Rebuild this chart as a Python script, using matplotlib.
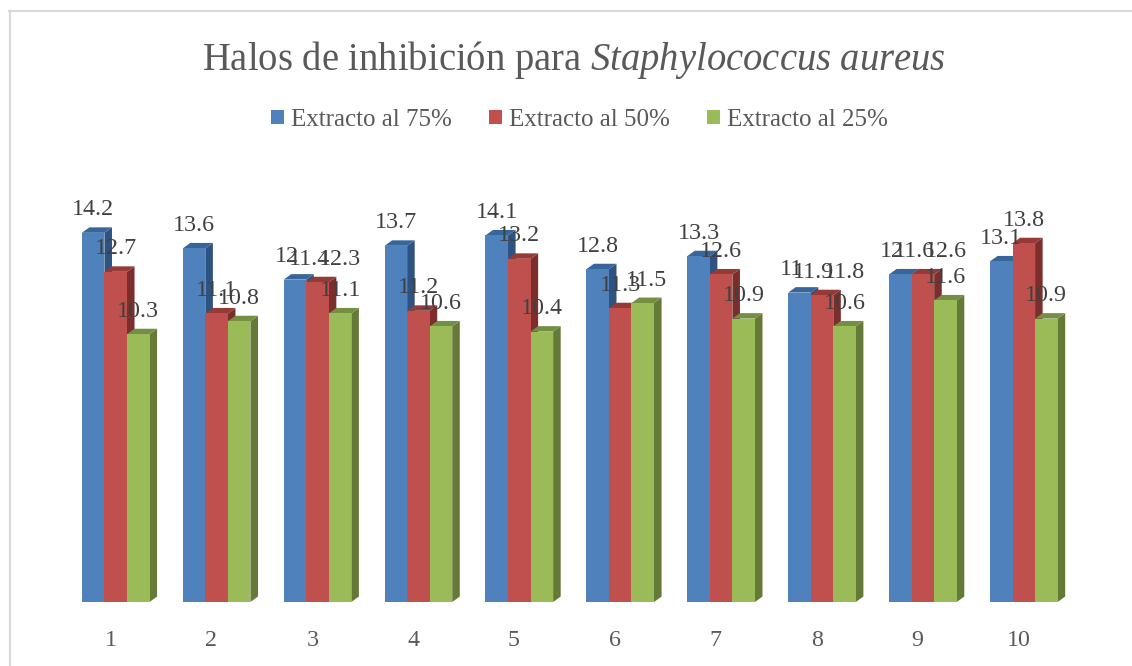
import matplotlib
matplotlib.use('Agg')
import matplotlib.pyplot as plt
from matplotlib.lines import Line2D
from matplotlib.patches import Polygon
import numpy as np

groups = ['1', '2', '3', '4', '5', '6', '7', '8', '9', '10']
series_names = ['Extracto al 75%', 'Extracto al 50%', 'Extracto al 25%']
ext75 = [14.2, 13.6, 12.4, 13.7, 14.1, 12.8, 13.3, 11.9, 12.6, 13.1]
ext50 = [12.7, 11.1, 12.3, 11.2, 13.2, 11.3, 12.6, 11.8, 12.6, 13.8]
ext25 = [10.3, 10.8, 11.1, 10.6, 10.4, 11.5, 10.9, 10.6, 11.6, 10.9]

# labels as they read in the picture, some are run together there
labels75 = ['14.2', '13.6', '12', '13.7', '14.1', '12.8', '13.3', '11', '12', '13.1']
labels50 = ['12.7', '11.1', '11.4', '11.2', '13.2', '11.3', '12.6', '11.9', '11.6', '13.8']
labels25 = ['10.3', '10.8', '11.1', '10.6', '10.4', '11.5', '10.9', '10.6', '11.6', '10.9']
extra_groups = [3, 8, 9]
extra_labels = ['12.3', '11.8', '12.6']

front = ['#4F81BD', '#C0504D', '#9BBB59']
side = ['#2F5380', '#7B2E2C', '#667A38']
top = ['#38659A', '#963A37', '#748F42']

plt.rcParams['font.family'] = 'Liberation Serif'
plt.rcParams['mathtext.fontset'] = 'custom'
plt.rcParams['mathtext.rm'] = 'Liberation Serif'
plt.rcParams['mathtext.it'] = 'Liberation Serif:italic'

W, H = 1132, 666
fig = plt.figure(figsize=(W / 100, H / 100), dpi=100)
ax = fig.add_axes([60 / W, (H - 602) / H, 1009 / W, 416 / H])

x = np.arange(1, 11)
bar_w = 0.2235
shift = 0.052
dx, dy = 0.075, 0.21
label_size = 17.3

all_vals = [ext75, ext50, ext25]
all_labels = [labels75, labels50, labels25]
for k, vals in enumerate(all_vals):
    xpos = x + shift + (k - 1) * bar_w
    for xc, v in zip(xpos, vals):
        r = xc + bar_w / 2
        l = xc - bar_w / 2
        ax.add_patch(Polygon([(r, 0), (r + dx, dy), (r + dx, v + dy), (r, v)], color=side[k], lw=0, zorder=2 + k))
        ax.add_patch(Polygon([(l, v), (l + dx, v + dy), (r + dx, v + dy), (r, v)], color=top[k], lw=0, zorder=2 + k))
    ax.bar(xpos, vals, bar_w, color=front[k], label=series_names[k], zorder=2 + k, lw=0)
    for g, xc, v, txt in zip(groups, xpos, vals, all_labels[k]):
        off = 0
        if int(g) in extra_groups and k < 2:
            off = -6  # the run-together labels sit left of their bars
        if g == '6' and k == 2:
            off = 3
        ax.annotate(txt, (xc, v), xytext=(off, 16.5), textcoords='offset points', ha='center', va='center',
                    fontsize=label_size, color='#404040', zorder=10, annotation_clip=False)

for g, txt in zip(extra_groups, extra_labels):
    xc = g + shift + bar_w
    ax.annotate(txt, (xc, ext50[g - 1]), xytext=(0, 16.5), textcoords='offset points', ha='center', va='center',
                fontsize=label_size, color='#404040', zorder=10, annotation_clip=False)

ax.set_xlim(0.5, 10.5)
ax.set_ylim(0, 16)
ax.set_yticks([])
ax.set_xticks(x)
ax.set_xticklabels(groups, fontsize=label_size, color='#595959')
ax.tick_params(axis='x', length=0, pad=20)
for s in ax.spines.values():
    s.set_visible(False)
ax.patch.set_alpha(0)

fig.text(574 / W, 1 - 60 / H, r'Halos de inhibición para $\mathit{Staphylococcus\ aureus}$',
         ha='center', va='center', fontsize=27.8, color='#595959')
ax.legend(loc='center', bbox_to_anchor=(579.5 / W, 1 - 120 / H), bbox_transform=fig.transFigure, ncol=3,
          frameon=False, fontsize=18, handlelength=0.52, handleheight=0.52, handletextpad=0.28,
          columnspacing=1.48, labelcolor='#595959', borderpad=0)

# frame only shows on the top and left in the picture
fig.add_artist(Line2D([9.5 / W, 9.5 / W], [0, 1 - 11 / H], transform=fig.transFigure, color='#D9D9D9', lw=1.5))
fig.add_artist(Line2D([9 / W, 1], [1 - 11 / H, 1 - 11 / H], transform=fig.transFigure, color='#D9D9D9', lw=1.5))

fig.savefig('out.png', dpi=100)
